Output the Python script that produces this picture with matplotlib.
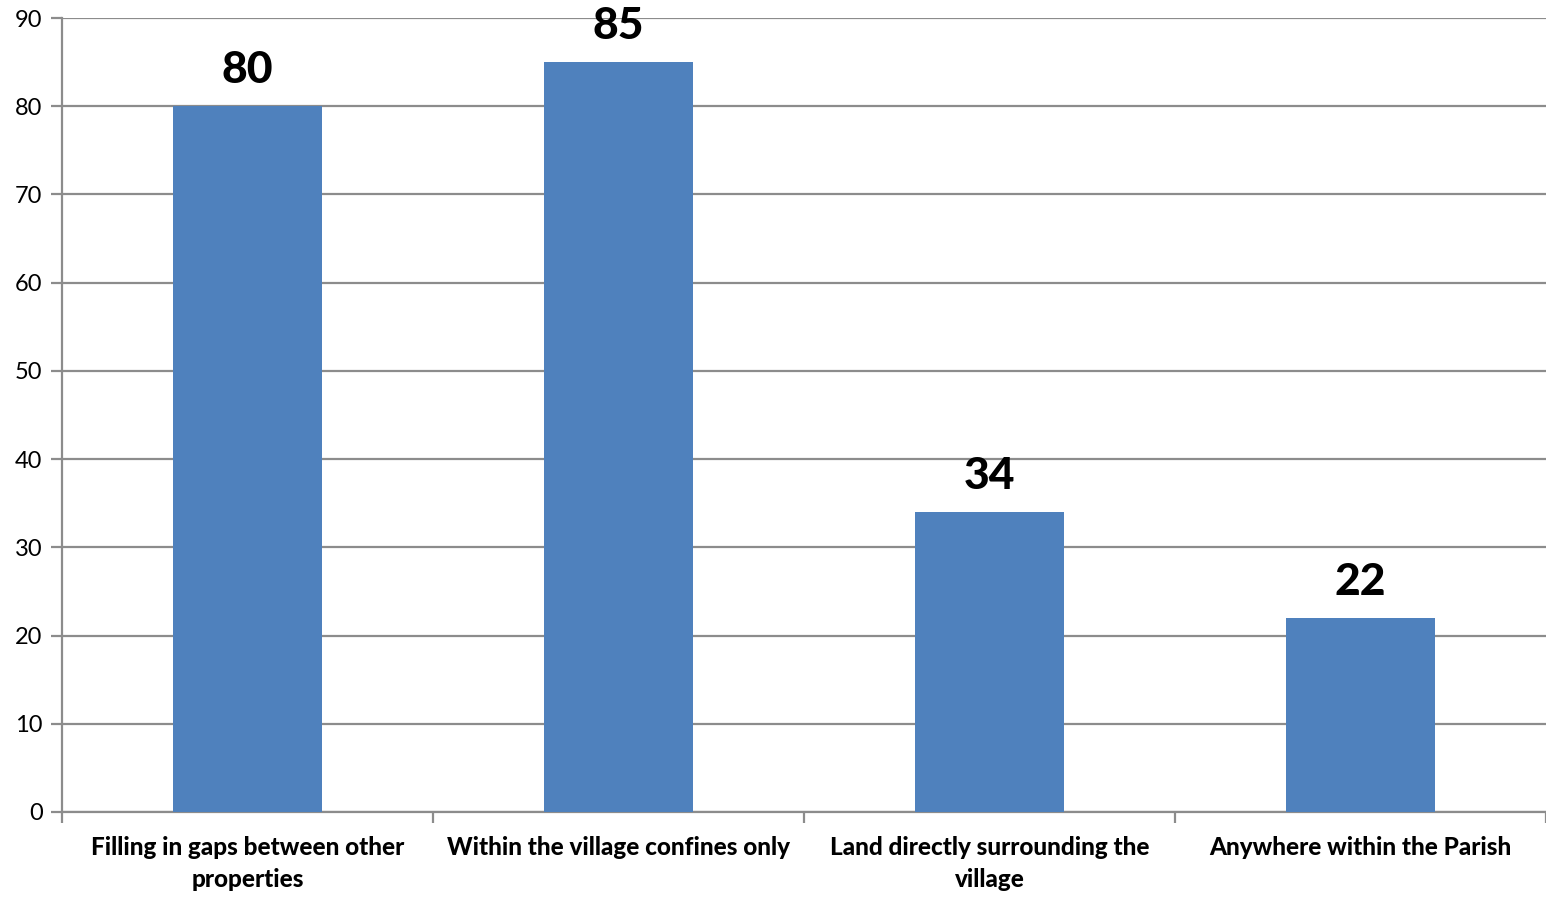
import numpy as np
import matplotlib.pyplot as plt

categories = ['Filling in gaps between other\nproperties',
              'Within the village confines only',
              'Land directly surrounding the\nvillage',
              'Anywhere within the Parish']
values = [80, 85, 34, 22]

plt.rcParams['font.family'] = ['Lato', 'DejaVu Sans']

fig = plt.figure(figsize=(15.46, 9.01), dpi=100)
ax = fig.add_axes([0.0401, 0.0988, 0.9599, 0.8812])

x = np.arange(len(values))
ax.bar(x, values, width=0.4, color='#4F81BD', zorder=3)

for xi, v in zip(x, values):
    ax.text(xi, v + 1.8, str(v), ha='center', va='bottom',
            fontsize=32, fontweight='black', color='black', zorder=4)

ax.set_xlim(-0.5, 3.5)
ax.set_ylim(0, 90)
ax.set_yticks(range(0, 91, 10))
ax.yaxis.grid(True, color='#8c8c8c', linewidth=1.6, zorder=0)

# ticks on category boundaries, labels at centres
ax.set_xticks(np.arange(-0.5, 3.6, 1.0))
ax.set_xticklabels([])
ax.set_xticks(x, minor=True)
ax.set_xticklabels(categories, minor=True, fontsize=17.5, fontweight='black',
                   linespacing=1.5)
ax.tick_params(axis='x', which='minor', length=0, pad=17)
ax.tick_params(axis='x', which='major', length=8, width=1.6, color='#8c8c8c')
ax.tick_params(axis='y', length=8, width=1.6, color='#8c8c8c',
               labelsize=17, pad=6)

for s in ['top', 'right']:
    ax.spines[s].set_visible(False)
for s in ['left', 'bottom']:
    ax.spines[s].set_color('#8c8c8c')
    ax.spines[s].set_linewidth(1.6)

fig.savefig('out.png', dpi=100)
